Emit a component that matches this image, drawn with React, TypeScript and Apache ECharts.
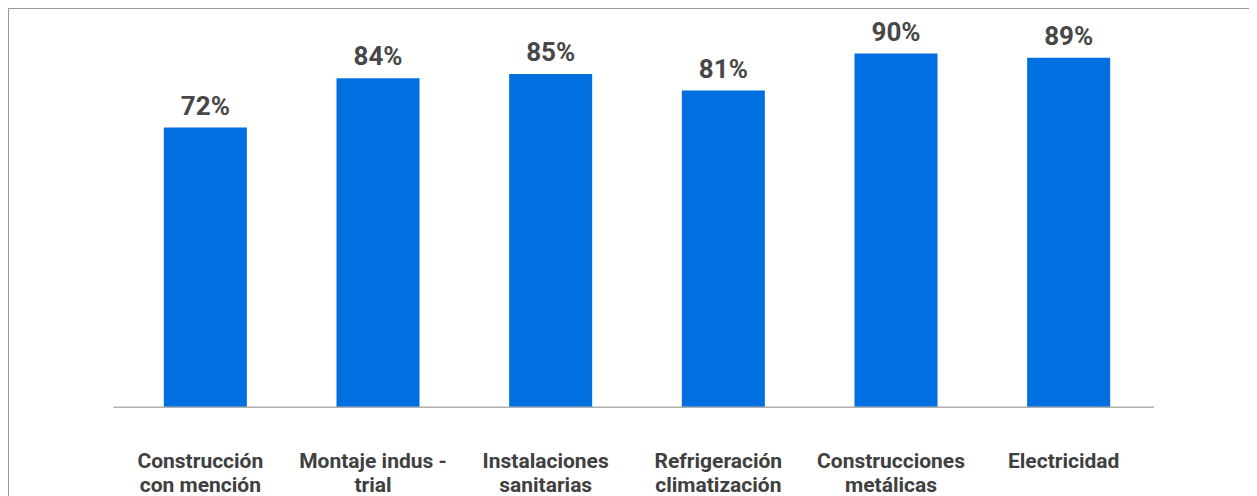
import React, { useEffect, useRef } from "react";
import * as echarts from "echarts";

const categories = [
  "Construcción\ncon mención",
  "Montaje indus -\ntrial",
  "Instalaciones\nsanitarias",
  "Refrigeración\nclimatización",
  "Construcciones\nmetálicas",
  "Electricidad",
];
const values = [72, 84, 85, 81, 90, 89];

export default function App() {
  const ref = useRef<HTMLDivElement>(null);
  useEffect(() => {
    if (!ref.current) return;
    const chart = echarts.init(ref.current, null, { renderer: "svg" });
    chart.setOption({
      animation: false,
      grid: { left: 110, top: 3.4, width: 1036, height: 395, containLabel: false },
      xAxis: {
        type: "category",
        data: categories,
        axisLine: { show: false },
        axisTick: { show: false },
        axisLabel: {
          interval: 0,
          margin: 42,
          padding: [0, 10, 0, 0],
          fontFamily: "Roboto",
          fontWeight: "bold",
          fontSize: 21,
          lineHeight: 24,
          color: "#404040",
        },
      },
      yAxis: {
        type: "value",
        min: 4,
        max: 100,
        show: false,
        splitLine: { show: false },
      },
      graphic: [
        {
          type: "line",
          shape: { x1: 104.3, y1: 398.3, x2: 1145, y2: 398.3 },
          style: { stroke: "#b0b0b0", lineWidth: 1.5 },
          z: 10,
        },
      ],
      series: [
        {
          type: "bar",
          data: values,
          barWidth: 83,
          itemStyle: { color: "#006FE0" },
          label: {
            show: true,
            position: "top",
            distance: 9,
            formatter: "{c}%",
            fontFamily: "Roboto",
            fontWeight: "bold",
            fontSize: 26,
            lineHeight: 26,
            color: "#474747",
          },
        },
      ],
    });
    return () => chart.dispose();
  }, []);
  return (
    <div style={{ border: "1px solid #9a9a9a", width: 1300, height: 520 }}>
      <div ref={ref} style={{ width: 1300, height: 520 }} />
    </div>
  );
}
